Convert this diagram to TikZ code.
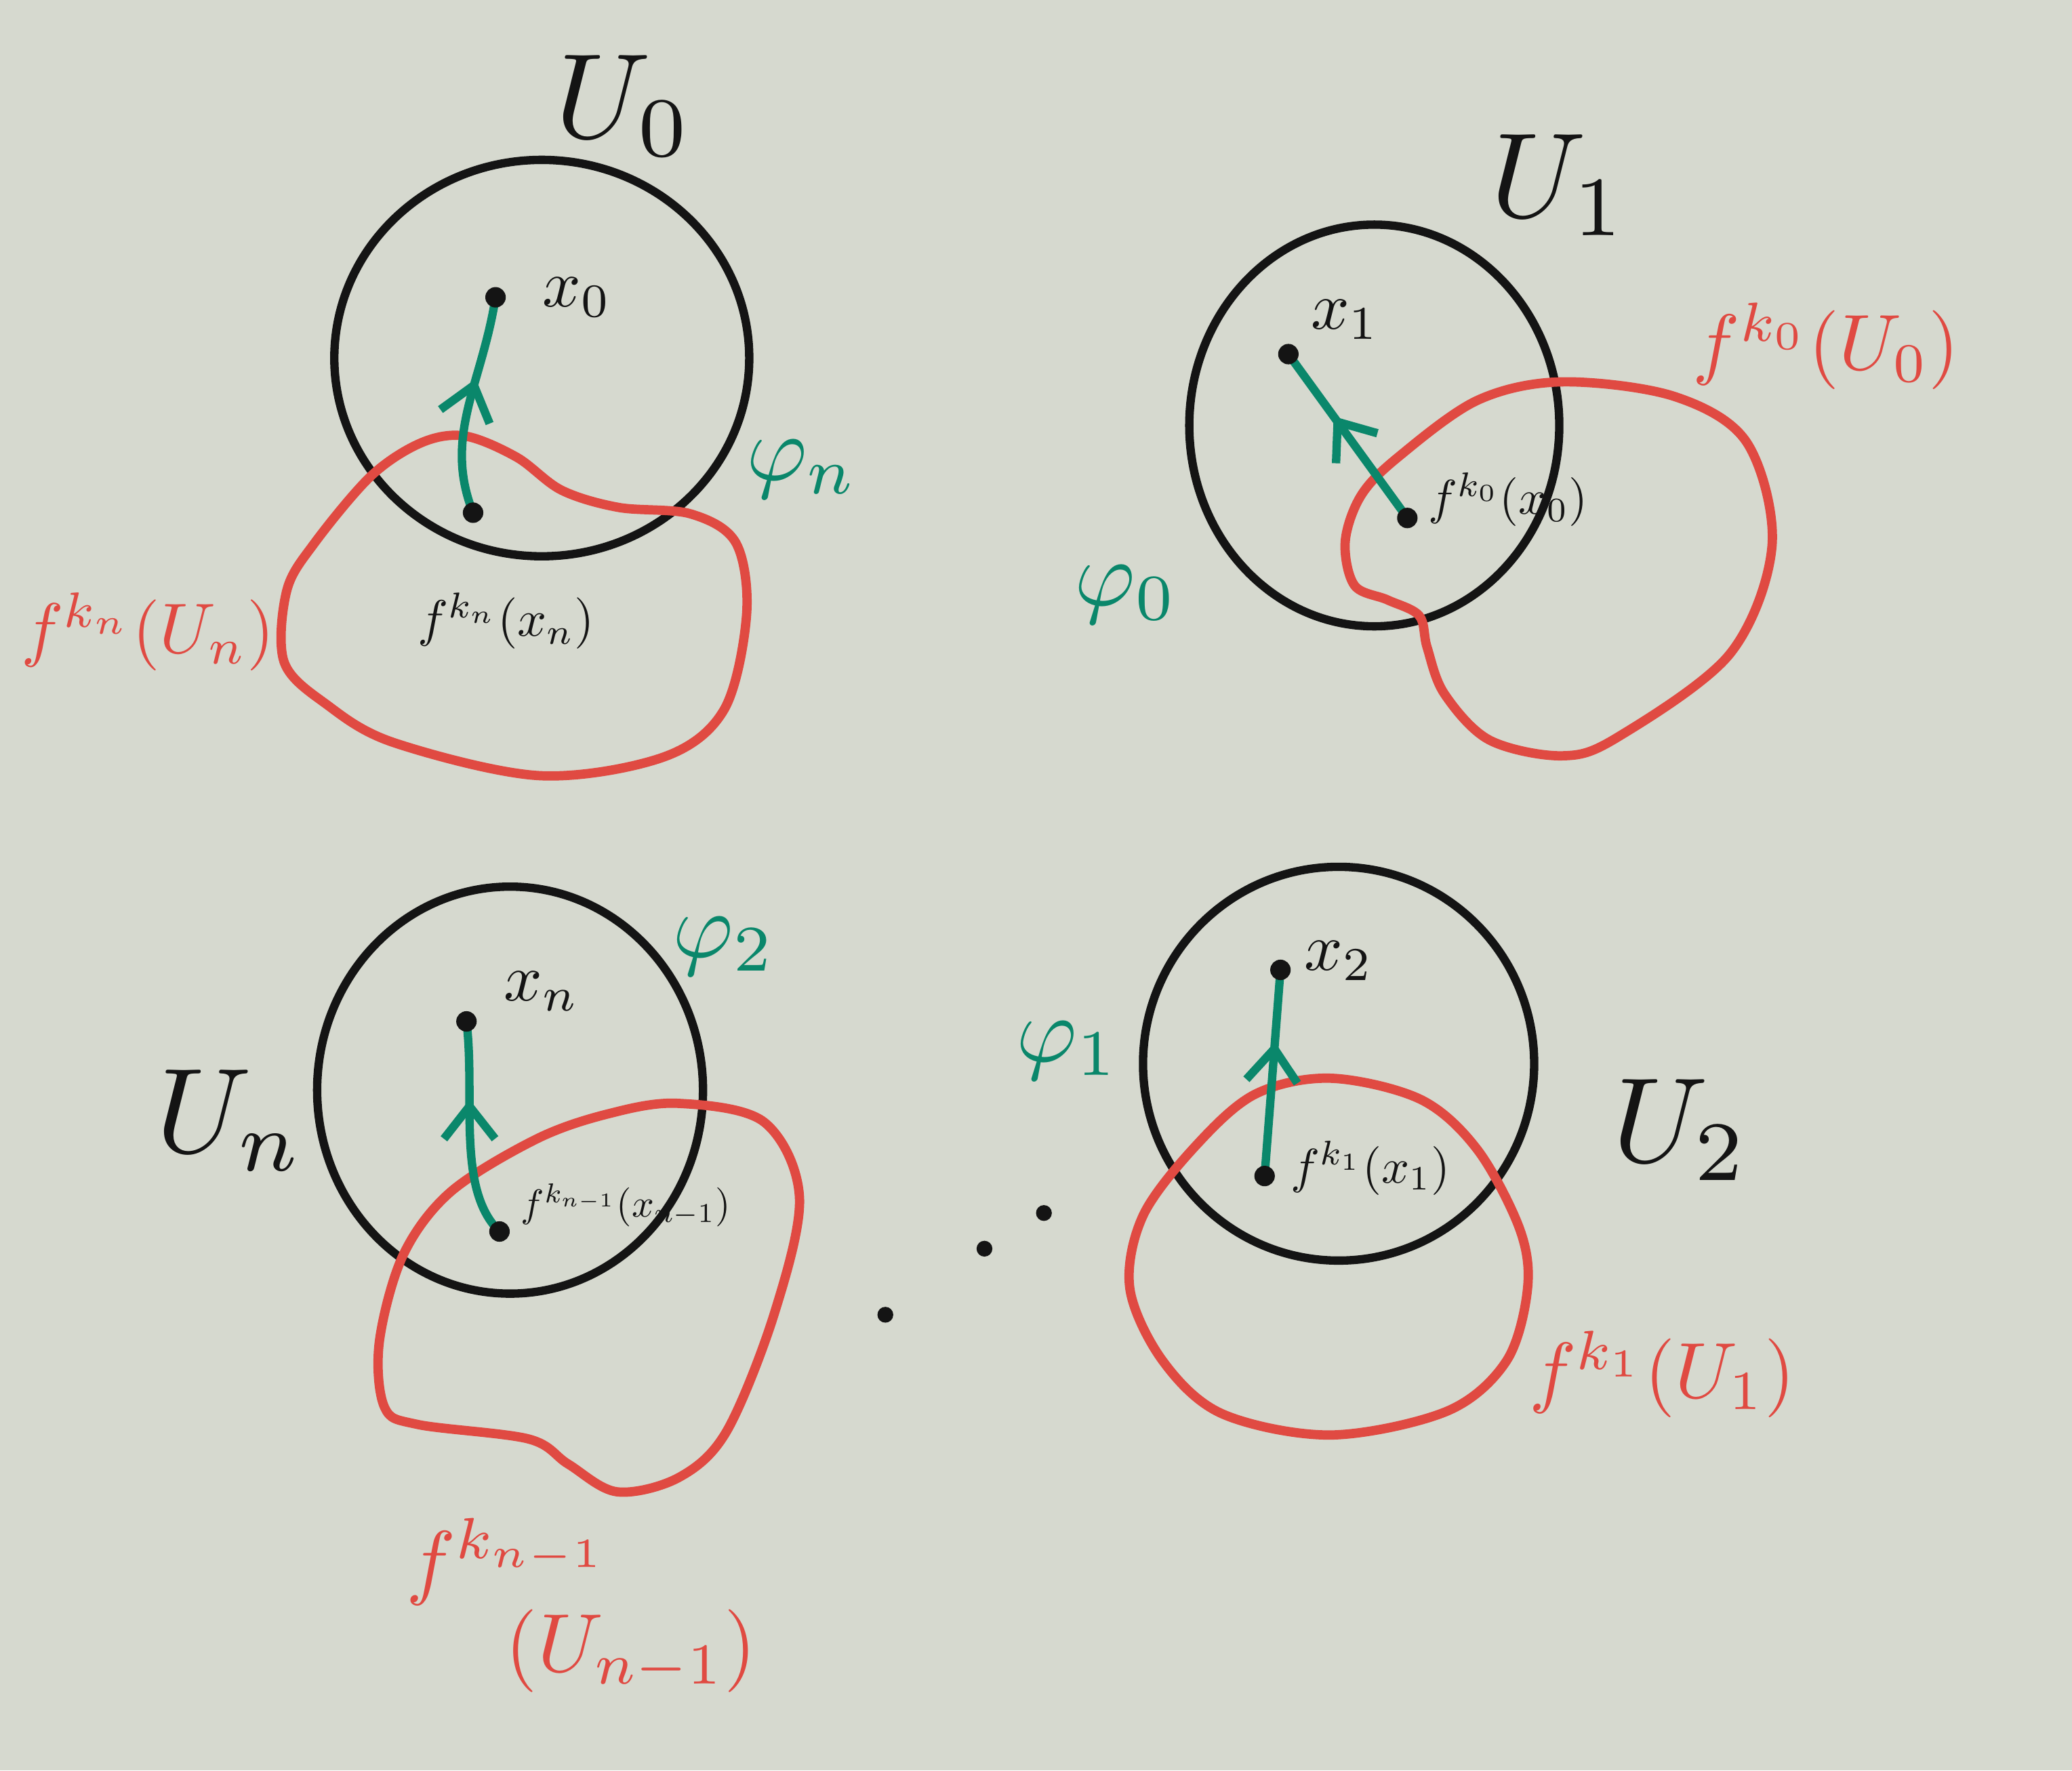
\documentclass[tikz,border=0pt]{standalone}
\usepackage{amsmath}
\usetikzlibrary{arrows.meta,calc,positioning,decorations.markings}
\usepackage{tkz-euclide}
\definecolor{BoardClr}{rgb}{0.84,0.85,0.81}
\definecolor{SetClr}{rgb}{0.08,0.08,0.08}
\definecolor{ImageClr}{rgb}{0.88,0.29,0.26}
\definecolor{MapClr}{rgb}{0.04,0.53,0.42}

\begin{document}
\begin{tikzpicture}[x=0.01cm,y=-0.01cm,
  setline/.style={line width=1.8pt,color=SetClr},
  imgline/.style={line width=2pt,color=ImageClr,line join=round},
  mapline/.style={line width=1.8pt,color=MapClr,line cap=round,postaction={decorate},
    decoration={markings,mark=at position #1 with {\arrow{Straight Barb[length=7pt,width=11pt,line width=1.8pt]}}}},
  setlbl/.style={color=SetClr,scale=2.6,inner sep=0pt},
  ptlbl/.style={color=SetClr,scale=1.45},
  fptlbl/.style={color=SetClr,scale=1.05},
  maplbl/.style={color=MapClr,scale=2},
  imglbl/.style={color=ImageClr,scale=1.7,inner sep=0pt}]
\fill[BoardClr] (0,0) rectangle (1568,1340);
\useasboundingbox (0,0) rectangle (1568,1340);
\tkzSetUpPoint[fill=SetClr,color=SetClr]

\tkzDefPoints{375/225/X0,358/388/FXn,975/268/X1,1065/392/FX0,353/773/Xn,378/932/FXm,969/734/X2,957/890/FX1}
\tkzDefPoints{670/995/D1,745/945/D2,790/918/D3}

\draw[setline] (410,271) ellipse [x radius=157,y radius=150];
\draw[setline] (1040,322) ellipse [x radius=140,y radius=152];
\draw[setline] (386,825) ellipse [x radius=146,y radius=154];
\draw[setline] (1013,805) ellipse [x radius=148,y radius=149];

\draw[imgline] plot[smooth cycle,tension=0.55] coordinates {(352,330) (391,346) (425,371) (468,384)
  (523,389) (557,411) (565,465) (548,537) (502,573) (408,587) (298,562) (247,533) (215,501)
  (217,447) (238,411) (281,360) (319,335)};
\draw[imgline] plot[smooth cycle,tension=0.55] coordinates {(1018,410) (1030,375) (1058,346) (1118,303)
  (1182,289) (1267,300) (1322,335) (1341,413) (1309,495) (1224,558) (1182,572) (1127,560)
  (1093,525) (1080,490) (1074,466) (1050,454) (1025,443)};
\draw[imgline] plot[smooth cycle,tension=0.55] coordinates {(513,835) (578,849) (605,906) (586,994)
  (550,1083) (514,1118) (467,1129) (430,1108) (400,1089) (316,1078) (291,1065) (287,1016)
  (305,950) (341,902) (406,862) (460,843)};
\draw[imgline] plot[smooth cycle,tension=0.55] coordinates {(1007,816) (1075,832) (1118,870) (1150,930)
  (1156,975) (1140,1030) (1095,1068) (1007,1086) (925,1070) (880,1030) (855,975) (865,920)
  (905,867) (950,828)};

\draw[mapline=0.62] (FXn) .. controls (335,330) and (365,290) .. (X0);
\draw[mapline=0.62] (FX0) -- (X1);
\draw[mapline=0.64] (FXm) .. controls (345,900) and (360,830) .. (Xn);
\draw[mapline=0.65] (FX1) -- (X2);

\tkzDrawPoints[size=4](X0,FXn,X1,FX0,Xn,FXm,X2,FX1)
\tkzDrawPoints[size=3](D1,D2,D3)

\node[setlbl] (lU0) at (472,80) {$U_0$};
\node[setlbl] (lU1) at (1180,140) {$U_1$};
\node[setlbl,anchor=east] (lUn) at (232,848) {$U_n$};
\node[setlbl] (lU2) at (1272,855) {$U_2$};

\node[ptlbl,right=5pt of X0] (lx0) {$x_0$};
\node[ptlbl] (lx1) at (1018,242) {$x_1$};
\node[ptlbl] (lxn) at (410,750) {$x_n$};
\node[ptlbl] (lx2) at (1013,727) {$x_2$};
\node[fptlbl,scale=1.05] (lfxn) at (383,470) {$f^{k_n}(x_n)$};
\node[fptlbl,anchor=west] (lfx0) at (1068,378) {$f^{k_0}(x_0)$};
\node[fptlbl,anchor=west,scale=0.8] (lfxm) at (384,912) {$f^{k_{n-1}}(x_{n-1})$};
\node[fptlbl,anchor=west] (lfx1) at (964,884) {$f^{k_1}(x_1)$};

\node[maplbl] (lphn) at (607,355) {$\varphi_n$};
\node[maplbl] (lph0) at (852,450) {$\varphi_0$};
\node[maplbl] (lph2) at (548,716) {$\varphi_2$};
\node[maplbl] (lph1) at (808,795) {$\varphi_1$};

\node[imglbl,scale=0.9] (lfUn) at (112,478) {$f^{k_n}(U_n)$};
\node[imglbl] (lfU0) at (1382,262) {$f^{k_0}(U_0)$};
\node[imglbl] (lfU1) at (1258,1040) {$f^{k_1}(U_1)$};
\node[imglbl,align=left,scale=1.05] (lfUm) at (440,1215) {$f^{k_{n-1}}$\\[-2pt]\hspace{1.2em}$(U_{n-1})$};

\end{tikzpicture}
\end{document}
